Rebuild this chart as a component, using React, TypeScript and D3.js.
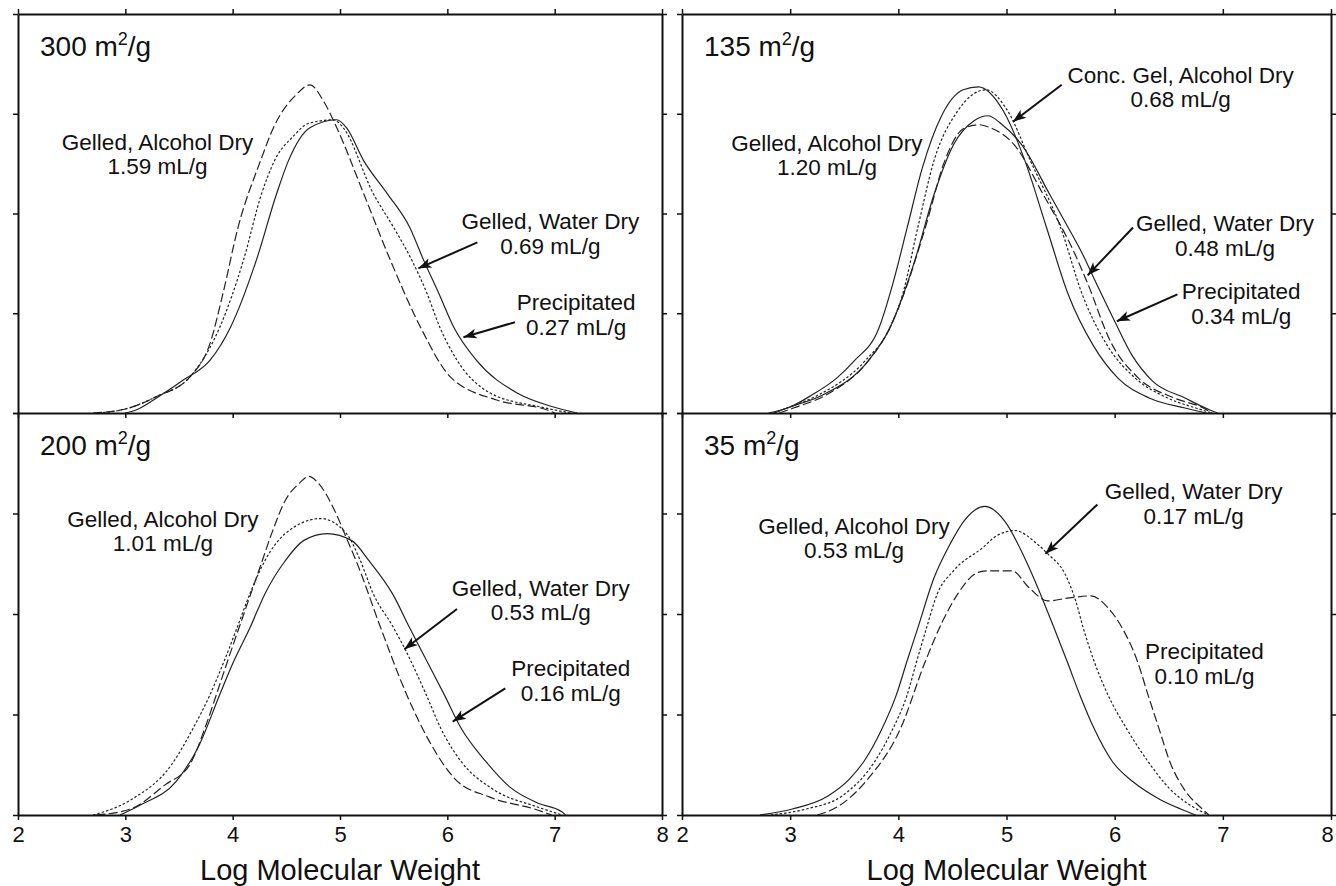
import { useEffect, useRef } from "react";
import * as d3 from "d3";

type Pt = [number, number];

const xTicks = [2, 3, 4, 5, 6, 7, 8];
const yTicks = [0, 1, 2, 3, 4];

// 300 m2/g
const a300: Pt[] = [[2.70,0],[3.00,0.04],[3.30,0.17],[3.60,0.36],[3.79,0.70],[3.91,1.20],[4.05,1.86],[4.26,2.53],[4.38,2.86],[4.60,3.20],[4.72,3.29],[4.85,3.12],[4.97,2.86],[5.22,2.20],[5.47,1.53],[5.75,0.86],[6.03,0.36],[6.46,0.13],[6.93,0.03],[7.00,0]];
const w300: Pt[] = [[2.75,0],[3.00,0.04],[3.30,0.17],[3.60,0.36],[3.88,0.86],[4.10,1.53],[4.27,2.20],[4.39,2.53],[4.57,2.78],[4.70,2.90],[4.94,2.94],[5.03,2.86],[5.31,2.20],[5.50,1.86],[5.67,1.53],[5.81,1.20],[5.93,0.86],[6.09,0.53],[6.40,0.20],[6.87,0.06],[7.15,0]];
const p300: Pt[] = [[3.00,0],[3.10,0.03],[3.29,0.15],[3.54,0.33],[3.79,0.53],[3.98,0.86],[4.22,1.53],[4.41,2.20],[4.52,2.53],[4.72,2.86],[4.97,2.94],[5.06,2.86],[5.22,2.53],[5.44,2.20],[5.65,1.86],[5.78,1.53],[5.92,1.20],[6.06,0.86],[6.27,0.53],[6.65,0.20],[6.99,0.06],[7.21,0]];

// 200 m2/g
const a200: Pt[] = [[2.73,0],[3.05,0.06],[3.37,0.30],[3.60,0.50],[3.76,0.92],[3.88,1.30],[4.00,1.68],[4.12,2.05],[4.25,2.45],[4.37,2.82],[4.49,3.13],[4.62,3.30],[4.71,3.37],[4.80,3.30],[4.95,3.03],[5.07,2.73],[5.15,2.53],[5.38,1.86],[5.62,1.20],[5.85,0.70],[6.07,0.36],[6.39,0.18],[6.84,0.05],[6.97,0]];
const w200: Pt[] = [[2.70,0],[3.05,0.15],[3.43,0.50],[3.63,0.86],[3.79,1.20],[3.92,1.53],[4.04,1.86],[4.16,2.20],[4.30,2.53],[4.49,2.80],[4.82,2.95],[5.06,2.80],[5.19,2.53],[5.31,2.20],[5.49,1.88],[5.62,1.62],[5.81,1.18],[5.94,0.86],[6.13,0.53],[6.42,0.26],[6.84,0.08],[7.07,0]];
const p200: Pt[] = [[2.95,0],[3.14,0.10],[3.47,0.33],[3.69,0.70],[3.88,1.20],[4.01,1.53],[4.16,1.86],[4.30,2.20],[4.49,2.53],[4.66,2.73],[4.88,2.80],[5.11,2.73],[5.27,2.53],[5.49,2.20],[5.65,1.86],[5.81,1.53],[5.97,1.20],[6.13,0.86],[6.36,0.53],[6.58,0.28],[6.84,0.12],[7.07,0.03],[7.10,0]];

// 135 m2/g
const a135: Pt[] = [[2.80,0],[3.00,0.06],[3.20,0.18],[3.43,0.35],[3.59,0.52],[3.82,0.85],[3.95,1.30],[4.08,1.85],[4.22,2.45],[4.40,2.98],[4.60,3.24],[4.74,3.27],[4.97,3.03],[5.17,2.53],[5.37,1.86],[5.57,1.19],[5.80,0.68],[6.03,0.35],[6.32,0.15],[6.65,0.05],[6.85,0]];
const c135: Pt[] = [[2.85,0],[2.97,0.05],[3.26,0.18],[3.69,0.52],[3.92,0.85],[4.04,1.19],[4.18,1.86],[4.33,2.53],[4.55,3.03],[4.81,3.24],[5.01,3.03],[5.22,2.53],[5.50,1.86],[5.70,1.19],[5.93,0.68],[6.19,0.35],[6.49,0.15],[6.75,0.05],[6.90,0]];
const w135: Pt[] = [[2.90,0],[3.03,0.05],[3.33,0.18],[3.72,0.52],[3.92,0.85],[4.05,1.19],[4.25,1.86],[4.43,2.53],[4.60,2.85],[4.74,2.89],[4.85,2.86],[5.07,2.69],[5.34,2.19],[5.63,1.60],[5.75,1.30],[5.96,0.72],[6.22,0.35],[6.55,0.15],[6.82,0.05],[6.90,0]];
const p135: Pt[] = [[2.85,0],[2.97,0.05],[3.30,0.18],[3.72,0.52],[3.92,0.85],[4.15,1.52],[4.33,2.19],[4.51,2.69],[4.70,2.93],[4.83,2.98],[4.95,2.90],[5.14,2.69],[5.40,2.19],[5.57,1.86],[5.70,1.60],[5.83,1.30],[6.00,0.92],[6.16,0.58],[6.35,0.32],[6.65,0.15],[6.88,0.03],[6.95,0]];

// 35 m2/g
const a35: Pt[] = [[2.72,0],[3.02,0.06],[3.35,0.19],[3.55,0.36],[3.68,0.53],[3.85,0.86],[3.98,1.19],[4.08,1.53],[4.18,1.86],[4.33,2.36],[4.48,2.70],[4.61,2.93],[4.80,3.07],[4.98,2.93],[5.18,2.53],[5.34,2.13],[5.44,1.86],[5.56,1.53],[5.68,1.19],[5.81,0.86],[5.98,0.53],[6.17,0.33],[6.41,0.16],[6.61,0.06],[6.75,0]];
const w35: Pt[] = [[2.82,0],[3.15,0.06],[3.48,0.19],[3.78,0.53],[3.95,0.86],[4.08,1.19],[4.17,1.53],[4.26,1.86],[4.36,2.20],[4.51,2.43],[4.78,2.66],[4.91,2.78],[5.08,2.83],[5.28,2.70],[5.38,2.60],[5.54,2.40],[5.64,2.13],[5.71,1.86],[5.81,1.53],[5.94,1.19],[6.11,0.86],[6.31,0.53],[6.51,0.26],[6.71,0.09],[6.87,0]];
const p35: Pt[] = [[3.25,0],[3.45,0.09],[3.72,0.36],[4.02,0.86],[4.25,1.53],[4.41,1.93],[4.55,2.20],[4.71,2.40],[4.81,2.43],[5.05,2.43],[5.21,2.26],[5.38,2.13],[5.58,2.16],[5.78,2.18],[5.94,2.06],[6.07,1.86],[6.21,1.53],[6.31,1.19],[6.41,0.86],[6.51,0.53],[6.64,0.26],[6.81,0.06],[6.87,0]];

const areas = ["300", "200", "135", "35"];

const dashes: Record<string, string | null> = {
  solid: null,
  dashed: "9 3.5",
  dotted: "2.5 2",
};

// frame of each column / row in page pixels
const cols = [{ x0: 18, x1: 662 }, { x0: 682, x1: 1331 }];
const rows = [{ y0: 14, y1: 413 }, { y0: 413, y1: 815 }];

type Note = { x: number; y: number; lines: string[]; from?: Pt; to?: Pt };

const panels: { area: string; col: number; row: number; series: { data: Pt[]; style: string }[]; notes: Note[] }[] = [
  {
    area: areas[0], col: 0, row: 0,
    series: [{ data: a300, style: "dashed" }, { data: w300, style: "dotted" }, { data: p300, style: "solid" }],
    notes: [
      { x: 3.30, y: 2.72, lines: ["Gelled, Alcohol Dry", "1.59 mL/g"] },
      { x: 6.96, y: 1.92, lines: ["Gelled, Water Dry", "0.69 mL/g"], from: [6.28, 1.71], to: [5.73, 1.45] },
      { x: 7.20, y: 1.11, lines: ["Precipitated", "0.27 mL/g"], from: [6.63, 0.91], to: [6.15, 0.76] },
    ],
  },
  {
    area: areas[1], col: 0, row: 1,
    series: [{ data: a200, style: "dashed" }, { data: w200, style: "dotted" }, { data: p200, style: "solid" }],
    notes: [
      { x: 3.35, y: 2.95, lines: ["Gelled, Alcohol Dry", "1.01 mL/g"] },
      { x: 6.87, y: 2.26, lines: ["Gelled, Water Dry", "0.53 mL/g"], from: [6.09, 2.05], to: [5.60, 1.65] },
      { x: 7.15, y: 1.46, lines: ["Precipitated", "0.16 mL/g"], from: [6.54, 1.26], to: [6.05, 0.93] },
    ],
  },
  {
    area: areas[2], col: 1, row: 0,
    series: [{ data: a135, style: "solid" }, { data: c135, style: "dotted" }, { data: w135, style: "dashed" }, { data: p135, style: "solid" }],
    notes: [
      { x: 3.34, y: 2.71, lines: ["Gelled, Alcohol Dry", "1.20 mL/g"] },
      { x: 6.61, y: 3.39, lines: ["Conc. Gel, Alcohol Dry", "0.68 mL/g"], from: [5.51, 3.29], to: [5.06, 2.92] },
      { x: 7.02, y: 1.90, lines: ["Gelled, Water Dry", "0.48 mL/g"], from: [6.17, 1.86], to: [5.75, 1.38] },
      { x: 7.17, y: 1.22, lines: ["Precipitated", "0.34 mL/g"], from: [6.58, 1.19], to: [6.02, 0.92] },
    ],
  },
  {
    area: areas[3], col: 1, row: 1,
    series: [{ data: a35, style: "solid" }, { data: w35, style: "dotted" }, { data: p35, style: "dashed" }],
    notes: [
      { x: 3.59, y: 2.88, lines: ["Gelled, Alcohol Dry", "0.53 mL/g"] },
      { x: 6.73, y: 3.22, lines: ["Gelled, Water Dry", "0.17 mL/g"], from: [5.84, 3.09], to: [5.36, 2.60] },
      { x: 6.83, y: 1.63, lines: ["Precipitated", "0.10 mL/g"] },
    ],
  },
];

const FONT = "'Liberation Sans', Arial, Helvetica, sans-serif";

export default function App() {
  const ref = useRef<SVGSVGElement>(null);

  useEffect(() => {
    const svg = d3.select(ref.current);
    svg.selectAll("*").remove();

    svg.append("defs")
      .append("marker")
      .attr("id", "arrowhead")
      .attr("viewBox", "0 0 12 10")
      .attr("refX", 12)
      .attr("refY", 5)
      .attr("markerWidth", 14)
      .attr("markerHeight", 11)
      .attr("markerUnits", "userSpaceOnUse")
      .attr("orient", "auto")
      .append("path")
      .attr("d", "M0,0.5 L12,5 L0,9.5 L3,5 Z")
      .attr("fill", "#111");

    panels.forEach(p => {
      const c = cols[p.col];
      const r = rows[p.row];
      const x = d3.scaleLinear().domain([2, 8]).range([c.x0, c.x1]);
      const y = d3.scaleLinear().domain([0, 4]).range([r.y1, r.y0]);
      const line = d3.line<Pt>().x(d => x(d[0])).y(d => y(d[1])).curve(d3.curveMonotoneX);

      const g = svg.append("g");

      p.series.forEach(s => {
        g.append("path")
          .attr("d", line(s.data))
          .attr("fill", "none")
          .attr("stroke", "#222")
          .attr("stroke-width", 1.2)
          .attr("stroke-dasharray", dashes[s.style]);
      });

      // axes, ticks pointing outward
      const noLabel = () => "";
      const styleAxis = (a: d3.Selection<SVGGElement, unknown, null, undefined>) => {
        a.select("path.domain").attr("stroke", "#111").attr("stroke-width", 2);
        a.selectAll(".tick line").attr("stroke", "#111").attr("stroke-width", 1.5);
      };

      if (p.row === 0) {
        g.append("g")
          .attr("transform", `translate(0,${r.y0})`)
          .call(d3.axisTop(x).tickValues(xTicks).tickSize(5).tickSizeOuter(0).tickFormat(noLabel))
          .call(styleAxis);
        g.append("g")
          .attr("transform", `translate(0,${r.y1})`)
          .call(d3.axisBottom(x).tickValues(xTicks).tickSize(5).tickSizeOuter(0).tickFormat(noLabel))
          .call(styleAxis);
      } else {
        const bottom = g.append("g")
          .attr("transform", `translate(0,${r.y1})`)
          .call(d3.axisBottom(x).tickValues(xTicks).tickSize(5).tickSizeOuter(0).tickPadding(6).tickFormat(d3.format("d")))
          .call(styleAxis);
        bottom.selectAll<SVGTextElement, number>(".tick text")
          .attr("font-size", 22)
          .attr("font-family", FONT)
          .attr("fill", "#111")
          .attr("dx", d => (p.col === 1 && d === 8 ? -4 : 0));

        g.append("text")
          .attr("x", (c.x0 + c.x1) / 2)
          .attr("y", 880)
          .attr("text-anchor", "middle")
          .attr("font-size", 29)
          .attr("font-family", FONT)
          .attr("fill", "#111")
          .text("Log Molecular Weight");
      }

      g.append("g")
        .attr("transform", `translate(${c.x0},0)`)
        .call(d3.axisLeft(y).tickValues(yTicks).tickSize(5).tickSizeOuter(0).tickFormat(noLabel))
        .call(styleAxis);
      g.append("g")
        .attr("transform", `translate(${c.x1},0)`)
        .call(d3.axisRight(y).tickValues(yTicks).tickSize(5).tickSizeOuter(0).tickFormat(noLabel))
        .call(styleAxis);

      // panel title
      const title = g.append("text")
        .attr("x", c.x0 + 22)
        .attr("y", r.y0 + 42)
        .attr("font-size", 28)
        .attr("font-family", FONT)
        .attr("fill", "#111");
      title.append("tspan").text(`${p.area} m`);
      title.append("tspan").attr("font-size", 18).attr("dy", -11).text("2");
      title.append("tspan").attr("dy", 11).text("/g");

      // annotations
      p.notes.forEach(n => {
        const t = g.append("text")
          .attr("text-anchor", "middle")
          .attr("font-size", 22.5)
          .attr("font-family", FONT)
          .attr("fill", "#111");
        n.lines.forEach((ln, i) => {
          t.append("tspan")
            .attr("x", x(n.x))
            .attr("y", y(n.y) + 8 + i * 24.5)
            .text(ln);
        });
        if (n.from && n.to) {
          g.append("line")
            .attr("x1", x(n.from[0]))
            .attr("y1", y(n.from[1]))
            .attr("x2", x(n.to[0]))
            .attr("y2", y(n.to[1]))
            .attr("stroke", "#111")
            .attr("stroke-width", 2)
            .attr("marker-end", "url(#arrowhead)");
        }
      });
    });
  }, []);

  return (
    <svg
      ref={ref}
      width={1336}
      height={886}
      style={{ position: "absolute", left: 0, top: 0, background: "#fff" }}
    />
  );
}
